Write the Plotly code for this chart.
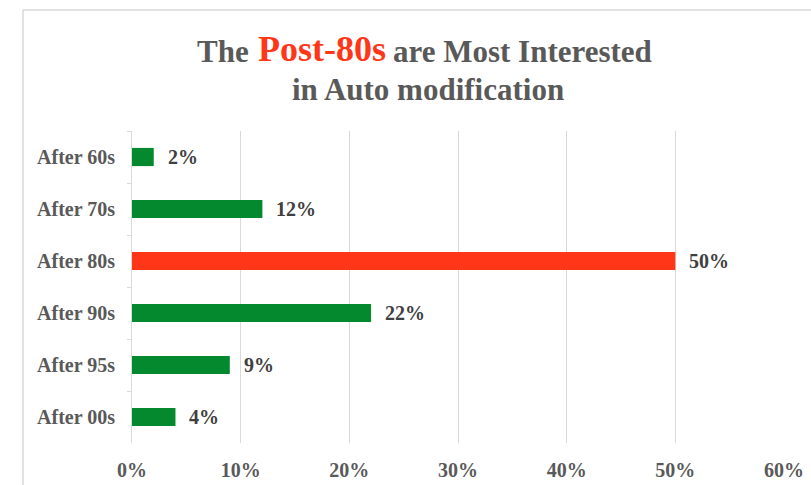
import plotly.graph_objects as go

# Share of interest in auto modification by generation
categories = ["After 60s", "After 70s", "After 80s", "After 90s", "After 95s", "After 00s"]
values = [2, 12, 50, 22, 9, 4]
highlight = "After 80s"
x_ticks = [0, 10, 20, 30, 40, 50, 60]
x_tick_labels = [f"{t}%" for t in x_ticks]

GREEN = "#04892E"
RED = "#FF3718"
GRID = "#D9D9D9"
TEXT = "#595959"
LABEL = "#404040"
FONT = "Liberation Serif"

W, H = 811, 485
ML, MR, MT, MB = 132, 27, 131, 42
PW, PH = W - ML - MR, H - MT - MB


def px_x(p):
    return (p - ML) / PW


def px_y(p):
    return 1 - (p - MT) / PH


colors = [RED if c == highlight else GREEN for c in categories]

fig = go.Figure(
    go.Bar(
        x=values,
        y=categories,
        orientation="h",
        marker=dict(color=colors, line=dict(width=0)),
        hoverinfo="skip",
    )
)

# value labels just past the end of each bar
for c, v in zip(categories, values):
    fig.add_annotation(
        x=v, y=c, xref="x", yref="y",
        text=f"{v}%", showarrow=False,
        xanchor="left", xshift=12,
        font=dict(family=FONT, size=20, color=LABEL, weight="bold"),
    )

# title: first line is built from three pieces so the red word keeps the serif face
title_font = dict(family=FONT, size=31, color=TEXT, weight="bold")
fig.add_annotation(xref="paper", yref="paper", x=px_x(251), y=px_y(51),
                   xanchor="right", yanchor="middle", showarrow=False,
                   text="The", font=title_font)
fig.add_annotation(xref="paper", yref="paper", x=px_x(256), y=px_y(49),
                   xanchor="left", yanchor="middle", showarrow=False,
                   text="Post-80s",
                   font=dict(family=FONT, size=36, color=RED, weight="bold"))
fig.add_annotation(xref="paper", yref="paper", x=px_x(391), y=px_y(51),
                   xanchor="left", yanchor="middle", showarrow=False,
                   text="are Most Interested", font=title_font)
fig.add_annotation(xref="paper", yref="paper", x=px_x(428), y=px_y(89),
                   xanchor="center", yanchor="middle", showarrow=False,
                   text="in Auto modification", font=title_font)

# chart frame (left and top edges)
fig.add_shape(type="line", xref="paper", yref="paper",
              x0=px_x(23), x1=px_x(811), y0=px_y(10), y1=px_y(10),
              line=dict(color=GRID, width=1.5))
fig.add_shape(type="line", xref="paper", yref="paper",
              x0=px_x(23), x1=px_x(23), y0=px_y(10), y1=px_y(485),
              line=dict(color=GRID, width=1.5))

fig.update_layout(
    width=W, height=H,
    margin=dict(l=ML, r=MR, t=MT, b=MB),
    paper_bgcolor="white",
    plot_bgcolor="white",
    showlegend=False,
    bargap=0.65,
    xaxis=dict(
        range=[0, 60],
        tickvals=x_ticks,
        ticktext=x_tick_labels,
        showgrid=True, gridcolor=GRID, gridwidth=1,
        zeroline=False, showline=False,
        ticks="", ticklabelstandoff=13,
        automargin=False,
        tickfont=dict(family=FONT, size=20, color=TEXT, weight="bold"),
    ),
    yaxis=dict(
        autorange="reversed",
        showgrid=False, zeroline=False,
        showline=True, linecolor=GRID, linewidth=1,
        ticks="outside", tickson="boundaries", ticklen=4, tickcolor=GRID,
        ticklabelstandoff=12,
        automargin=False,
        tickfont=dict(family=FONT, size=20, color=TEXT, weight="bold"),
    ),
)

fig.write_html("out.html")
